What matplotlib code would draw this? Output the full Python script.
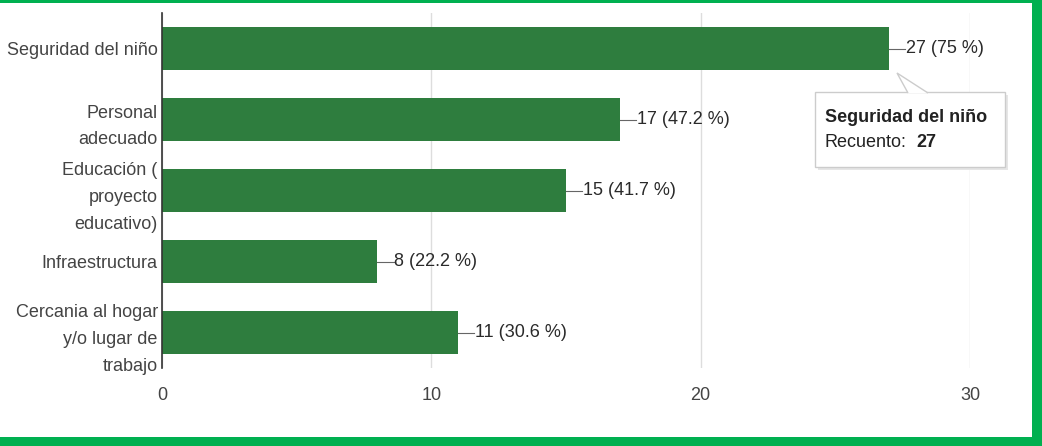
import matplotlib.pyplot as plt
from matplotlib.patches import Rectangle, Polygon, FancyBboxPatch

plt.rcParams['font.family'] = ['Liberation Sans', 'DejaVu Sans']

categorias = ["Seguridad del niño", "Personal\nadecuado", "Educación (\nproyecto\neducativo)",
              "Infraestructura", "Cercania al hogar\ny/o lugar de\ntrabajo"]
recuento = [27, 17, 15, 8, 11]
porcentaje = [75, 47.2, 41.7, 22.2, 30.6]
ticks_x = [0, 10, 20, 30]

verde_barra = "#2e7d3e"
verde_borde = "#00b050"
gris_texto = "#2a2a2a"
fs = 13

fig = plt.figure(figsize=(10.42, 4.46), dpi=100)
ax = fig.add_axes([162 / 1042, 1 - 368 / 446, (970 - 162) / 1042, (368 - 13) / 446])

y = list(range(len(categorias)))
ax.barh(y, recuento, height=0.6, color=verde_barra, zorder=2)
ax.set_ylim(len(categorias) - 0.5, -0.5)
ax.set_xlim(0, 30)
ax.set_xticks(ticks_x)
ax.set_yticks(y)
ax.set_yticklabels(categorias, fontsize=fs, color=gris_texto, linespacing=1.75)
ax.tick_params(axis='both', length=0, labelsize=fs, colors="#444444")
ax.tick_params(axis='x', pad=14)
ax.tick_params(axis='y', pad=3)
ax.grid(axis='x', color="#dddddd", linewidth=1, zorder=0)
for lado in ["top", "right", "bottom"]:
    ax.spines[lado].set_visible(False)
ax.spines["left"].set_color("#333333")
ax.spines["left"].set_linewidth(1.2)
ax.spines["left"].set_zorder(3)

# etiquetas con linea guia
for yi, v, p in zip(y, recuento, porcentaje):
    ax.plot([v, v + 0.6], [yi, yi], color="#666666", linewidth=0.8, zorder=3)
    ax.text(v + 0.62, yi, f"{v} ({p:g} %)", va='center', ha='left',
            fontsize=fs, color=gris_texto, zorder=3)

# tooltip
tr = fig.transFigure
def px(x, yy):
    return (x / 1042, 1 - yy / 446)

sombra = FancyBboxPatch(px(818, 170), 190 / 1042, 75 / 446, boxstyle="square,pad=0",
                        transform=tr, facecolor="#e6e6e6", edgecolor="none", zorder=4)
caja = FancyBboxPatch(px(815, 167), 190 / 1042, 75 / 446, boxstyle="square,pad=0",
                      transform=tr, facecolor="white", edgecolor="#cccccc", linewidth=1, zorder=5)
fig.patches.extend([sombra, caja])
punta = Polygon([px(908, 93), px(897, 73), px(928, 93)], closed=False, transform=tr,
                facecolor="white", edgecolor="#cccccc", linewidth=1, zorder=6)
fig.patches.append(punta)
fig.text(*px(825, 117), "Seguridad del niño", fontsize=fs, fontweight='bold',
         color="#222222", va='center', ha='left', zorder=7)
fig.text(*px(825, 143), "Recuento:", fontsize=fs, color="#222222",
         va='center', ha='left', zorder=7)
fig.text(*px(916, 143), str(recuento[0]), fontsize=fs, fontweight='bold',
         color="#222222", va='center', ha='left', zorder=7)

# marco verde
fig.patches.append(Rectangle(px(0, 3), 1, 3 / 446, transform=tr, facecolor=verde_borde,
                             edgecolor="none", zorder=8))
fig.patches.append(Rectangle(px(0, 446), 1, 9 / 446, transform=tr, facecolor=verde_borde,
                             edgecolor="none", zorder=8))
fig.patches.append(Rectangle(px(1032, 446), 10 / 1042, 1, transform=tr, facecolor=verde_borde,
                             edgecolor="none", zorder=8))

fig.savefig("out.png", dpi=100)
